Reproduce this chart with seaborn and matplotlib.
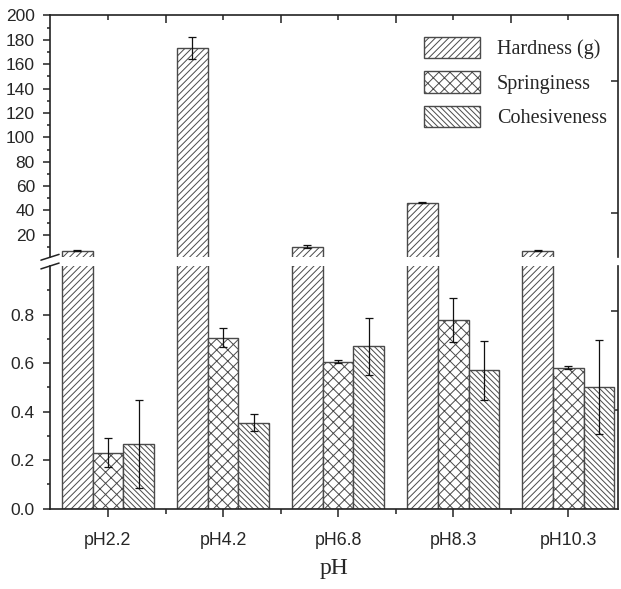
import numpy as np
import pandas as pd
import matplotlib
matplotlib.use('Agg')
import matplotlib.pyplot as plt
import seaborn as sns
from matplotlib.patches import Patch
from matplotlib.ticker import FixedLocator, NullFormatter

# ---- data ----
categories = ['pH2.2', 'pH4.2', 'pH6.8', 'pH8.3', 'pH10.3']
series = ['Hardness (g)', 'Springiness', 'Cohesiveness']
hardness = [7.1, 173.0, 10.4, 46.5, 7.1]
hardness_err = [0.3, 9.0, 1.0, 0.6, 0.3]
springiness = [0.23, 0.705, 0.606, 0.777, 0.58]
springiness_err = [0.06, 0.04, 0.007, 0.09, 0.006]
cohesiveness = [0.267, 0.355, 0.669, 0.570, 0.502]
cohesiveness_err = [0.18, 0.035, 0.118, 0.122, 0.195]

hatches = ['/////', 'xxx', '\\\\\\\\\\\\']

rows = []
for name, vals, errs in [(series[0], hardness, hardness_err),
                         (series[1], springiness, springiness_err),
                         (series[2], cohesiveness, cohesiveness_err)]:
    for c, v, e in zip(categories, vals, errs):
        rows.append({'pH': c, 'Param': name, 'Value': v, 'Err': e})
df = pd.DataFrame(rows)

sns.set_style('ticks')
plt.rcParams['hatch.linewidth'] = 0.7
sans = ['Liberation Sans', 'DejaVu Sans']
serif = ['Liberation Serif', 'DejaVu Serif']
plt.rcParams['font.family'] = sans

EDGE = '#4a4a4a'
AX = '#222222'
TOP_LIM = (1.6, 200)
BOT_LIM = (0, 1.0)

fig = plt.figure(figsize=(6.21, 5.89), dpi=100)
ax_top = fig.add_axes([0.0805, 0.5632, 0.9142, 0.4105])
ax_bot = fig.add_axes([0.0805, 0.1363, 0.9142, 0.4121])

for ax, lim in ((ax_top, TOP_LIM), (ax_bot, BOT_LIM)):
    sns.barplot(data=df, x='pH', y='Value', hue='Param', order=categories,
                hue_order=series, palette=['white'] * 3, saturation=1,
                edgecolor=EDGE, linewidth=1.0, errorbar=None, width=0.8,
                legend=False, ax=ax)
    for cont, h, name in zip(ax.containers, hatches, series):
        sub = df[df['Param'] == name].set_index('pH').loc[categories]
        xs, ys, es = [], [], []
        for p, v, e in zip(cont.patches, sub['Value'].values, sub['Err'].values):
            p.set_hatch(h)
            p.set_edgecolor(EDGE)
            if p.get_height() < lim[0]:
                p.set_visible(False)
            if lim[0] <= v <= lim[1]:
                xs.append(p.get_x() + p.get_width() / 2)
                ys.append(v)
                es.append(e)
        if xs:
            ax.errorbar(xs, ys, yerr=es, fmt='none',
                        ecolor='#111111', elinewidth=0.9, capsize=3, capthick=0.9)
    ax.set_xlim(-0.504, 4.43)
    ax.set_ylim(*lim)
    ax.set_xlabel('')
    ax.set_ylabel('')
    for s in ax.spines.values():
        s.set_color(AX)
        s.set_linewidth(1.2)

# top panel
ax_top.spines['bottom'].set_visible(False)
ax_top.yaxis.set_major_locator(FixedLocator(np.arange(20, 201, 20)))
ax_top.yaxis.set_minor_locator(FixedLocator(np.arange(10, 200, 20)))
ax_top.xaxis.set_major_locator(FixedLocator([0.5, 1.5, 2.5, 3.5]))
ax_top.xaxis.set_minor_locator(FixedLocator([0, 1, 2, 3, 4]))
ax_top.xaxis.set_major_formatter(NullFormatter())
ax_top.tick_params(axis='x', which='both', bottom=False, top=True, direction='in',
                   labelbottom=False, color=AX)
ax_top.tick_params(axis='x', which='major', length=6, width=1.1)
ax_top.tick_params(axis='x', which='minor', length=3.5, width=1.1)
sec_t = ax_top.secondary_yaxis('right')
sec_t.set_yticks([146, 38])
sec_t.set_yticklabels([])
sec_t.tick_params(direction='in', length=5, width=1.1, color=AX)
sec_t.spines['right'].set_linewidth(1.2)
sec_t.spines['right'].set_color(AX)

# bottom panel
ax_bot.spines['top'].set_visible(False)
ax_bot.yaxis.set_major_locator(FixedLocator([0.0, 0.2, 0.4, 0.6, 0.8]))
ax_bot.yaxis.set_minor_locator(FixedLocator([0.1, 0.3, 0.5, 0.7, 0.9]))
ax_bot.set_yticklabels(['0.0', '0.2', '0.4', '0.6', '0.8'])
ax_bot.xaxis.set_major_locator(FixedLocator([0, 1, 2, 3, 4]))
ax_bot.set_xticklabels(categories)
ax_bot.xaxis.set_minor_locator(FixedLocator([0.5, 1.5, 2.5, 3.5]))
ax_bot.tick_params(axis='x', which='major', length=6, width=1.1, pad=11,
                   direction='out', color=AX)
ax_bot.tick_params(axis='x', which='minor', length=3.5, width=1.1,
                   direction='out', color=AX)
sec_b = ax_bot.secondary_yaxis('right')
sec_b.set_yticks([0.816, 0.407])
sec_b.set_yticklabels([])
sec_b.tick_params(direction='in', length=5, width=1.1, color=AX)
sec_b.spines['right'].set_linewidth(1.2)
sec_b.spines['right'].set_color(AX)

for ax in (ax_top, ax_bot):
    ax.tick_params(axis='y', which='major', length=5.3, width=1.1, direction='out',
                   labelsize=12.5, pad=5.5, color=AX, left=True, right=False)
    ax.tick_params(axis='y', which='minor', length=2.5, width=1.1, direction='out',
                   left=True, right=False, color=AX)
    ax.tick_params(axis='x', labelsize=12.8)
    ax.spines['right'].set_visible(False)
    for lab in ax.get_yticklabels() + ax.get_xticklabels():
        lab.set_family(sans)

ax_bot.set_xlabel('pH', family=serif, fontsize=17, labelpad=6)

# break marks on the left spine
kw = dict(color=AX, lw=1.1, clip_on=False)
ax_top.plot([-0.016, 0.016], [-0.012, 0.012], transform=ax_top.transAxes, **kw)
ax_bot.plot([-0.016, 0.016], [0.988, 1.012], transform=ax_bot.transAxes, **kw)

# legend
fs = 14.5
fpx = fs * 100 / 72
handles = [Patch(facecolor='white', edgecolor=EDGE, hatch=h, linewidth=1.0)
           for h in hatches]
fig.legend(handles, series, loc='upper left',
           bbox_to_anchor=(424 / 621, 1 - 37 / 589), bbox_transform=fig.transFigure,
           frameon=False, borderpad=0, borderaxespad=0,
           handlelength=56 / fpx, handleheight=25 / fpx,
           labelspacing=12 / fpx, handletextpad=17 / fpx,
           prop={'family': serif, 'size': fs})

fig.savefig('out.png', dpi=100)
